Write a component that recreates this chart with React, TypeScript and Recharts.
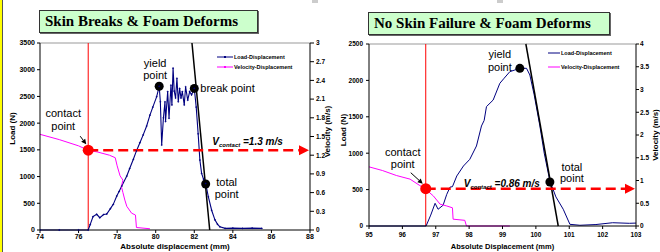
import { ComposedChart, Line, XAxis, YAxis, ReferenceLine, ReferenceDot, Legend } from "recharts";

const SANS = "'Liberation Sans', Arial, sans-serif";
const SERIF = "'Liberation Serif', 'Times New Roman', serif";
const NAVY = "#000080";
const MAGENTA = "#FF00FF";
const RED = "#FF0000";

// ---- left panel: skin breaks ----
const leftXTicks = [74, 76, 78, 80, 82, 84, 86, 88];
const leftLoadTicks = [0, 500, 1000, 1500, 2000, 2500, 3000, 3500];
const leftVelTicks = [0, 0.3, 0.6, 0.9, 1.2, 1.5, 1.8, 2.1, 2.4, 2.7, 3];

const leftLoad = [
  { x: 74, y: 0 }, { x: 75, y: 0 }, { x: 76, y: 0 }, { x: 76.5, y: 0 }, { x: 76.6, y: 100 },
  { x: 76.75, y: 250 }, { x: 76.94, y: 294 }, { x: 77.1, y: 230 }, { x: 77.3, y: 290 },
  { x: 77.46, y: 300 }, { x: 77.65, y: 400 }, { x: 77.8, y: 480 }, { x: 77.98, y: 636 },
  { x: 78.1, y: 720 }, { x: 78.24, y: 823 }, { x: 78.5, y: 1010 }, { x: 78.65, y: 1150 },
  { x: 78.84, y: 1323 }, { x: 79.0, y: 1480 }, { x: 79.18, y: 1634 }, { x: 79.35, y: 1780 },
  { x: 79.53, y: 1946 }, { x: 79.7, y: 2150 }, { x: 79.85, y: 2300 }, { x: 80.05, y: 2495 },
  { x: 80.18, y: 2690 }, { x: 80.24, y: 2400 }, { x: 80.31, y: 1590 }, { x: 80.4, y: 2100 },
  { x: 80.48, y: 2400 }, { x: 80.51, y: 2030 }, { x: 80.62, y: 2590 }, { x: 80.69, y: 2090 },
  { x: 80.79, y: 2710 }, { x: 80.84, y: 2340 }, { x: 80.9, y: 3030 }, { x: 80.96, y: 2600 },
  { x: 81.03, y: 2470 }, { x: 81.1, y: 2840 }, { x: 81.17, y: 2400 }, { x: 81.24, y: 2650 },
  { x: 81.31, y: 2470 }, { x: 81.38, y: 2590 }, { x: 81.48, y: 2340 }, { x: 81.55, y: 2680 },
  { x: 81.66, y: 2430 }, { x: 81.76, y: 2590 }, { x: 81.86, y: 2530 }, { x: 82.0, y: 2650 },
  { x: 82.1, y: 2300 }, { x: 82.2, y: 1800 }, { x: 82.29, y: 1310 }, { x: 82.38, y: 1060 },
  { x: 82.48, y: 950 }, { x: 82.59, y: 870 }, { x: 82.73, y: 620 }, { x: 82.9, y: 370 },
  { x: 83.07, y: 190 }, { x: 83.2, y: 110 }, { x: 83.33, y: 60 }, { x: 83.6, y: 30 },
  { x: 84, y: 35 }, { x: 84.5, y: 30 }, { x: 85, y: 35 }, { x: 85.5, y: 30 },
];

const leftVelocity = [
  { x: 74, v: 1.535 }, { x: 75, v: 1.45 }, { x: 76, v: 1.35 }, { x: 76.5, v: 1.28 },
  { x: 77, v: 1.25 }, { x: 77.6, v: 1.2 }, { x: 77.9, v: 1.16 }, { x: 78.0, v: 1.03 },
  { x: 78.15, v: 0.87 }, { x: 78.3, v: 0.8 }, { x: 78.22, v: 0.7 }, { x: 78.3, v: 0.6 },
  { x: 78.4, v: 0.48 }, { x: 78.5, v: 0.38 }, { x: 78.75, v: 0.27 }, { x: 78.95, v: 0.24 },
  { x: 79.0, v: 0.04 }, { x: 79.7, v: 0.02 },
];

const leftTangent = [{ x: 81.88, y: 3500 }, { x: 82.8, y: 0 }];
const leftContact = { x: 76.5, v: 1.28 };
const leftYield = { x: 80.18, y: 2690 };
const leftBreak = { x: 82.0, y: 2650 };
const leftTotal = { x: 82.59, y: 860 };

// ---- right panel: no skin failure ----
const rightXTicks = [95, 96, 97, 98, 99, 100, 101, 102, 103];
const rightLoadTicks = [0, 500, 1000, 1500, 2000, 2500];
const rightVelTicks = [0, 0.5, 1, 1.5, 2, 2.5, 3, 3.5, 4];

const rightLoad = [
  { x: 95, y: 0 }, { x: 96, y: 0 }, { x: 96.71, y: 0 }, { x: 96.85, y: 150 }, { x: 96.98, y: 312 },
  { x: 97.07, y: 230 }, { x: 97.22, y: 285 }, { x: 97.33, y: 435 }, { x: 97.43, y: 535 },
  { x: 97.5, y: 540 }, { x: 97.63, y: 687 }, { x: 97.83, y: 824 }, { x: 98.02, y: 916 },
  { x: 98.22, y: 1099 }, { x: 98.37, y: 1374 }, { x: 98.45, y: 1450 }, { x: 98.52, y: 1640 },
  { x: 98.72, y: 1730 }, { x: 98.92, y: 1960 }, { x: 99.05, y: 2030 }, { x: 99.22, y: 2120 },
  { x: 99.35, y: 2140 }, { x: 99.52, y: 2166 }, { x: 99.72, y: 2166 }, { x: 99.82, y: 2074 },
  { x: 99.95, y: 1800 }, { x: 100.12, y: 1374 }, { x: 100.25, y: 1000 }, { x: 100.42, y: 618 },
  { x: 100.6, y: 400 }, { x: 100.82, y: 230 }, { x: 101.02, y: 23 }, { x: 101.32, y: 10 },
  { x: 101.8, y: 20 }, { x: 102.3, y: 45 }, { x: 102.8, y: 37 }, { x: 103, y: 40 },
];

const rightVelocity = [
  { x: 95, v: 1.3 }, { x: 95.4, v: 1.22 }, { x: 95.82, v: 1.11 }, { x: 96.23, v: 1.03 },
  { x: 96.5, v: 0.9 }, { x: 96.68, v: 0.82 }, { x: 96.93, v: 0.66 }, { x: 97.13, v: 0.48 },
  { x: 97.33, v: 0.44 }, { x: 97.5, v: 0.4 }, { x: 97.52, v: 0.15 }, { x: 97.87, v: 0.125 },
  { x: 97.92, v: 0 }, { x: 99.22, v: 0 },
];

const rightTangent = [{ x: 99.7, y: 2500 }, { x: 100.67, y: 0 }];
const rightContact = { x: 96.7, v: 0.82 };
const rightYield = { x: 99.52, y: 2166 };
const rightTotal = { x: 100.42, y: 605 };

type Note = { text: string; dx: number; dy: number; anchor?: "start" | "middle" | "end" };

const noteText = (n: Note, cx: number, cy: number, i: number) => (
  <text key={i} x={cx + n.dx} y={cy + n.dy} textAnchor={n.anchor ?? "middle"} fontFamily={SANS} fontSize={11} fill="#000">
    {n.text}
  </text>
);

const blackDot = (notes: Note[]) => (p: any) => (
  <g>
    <circle cx={p.cx} cy={p.cy} r={4.5} fill="#000" />
    {notes.map((n, i) => noteText(n, p.cx, p.cy, i))}
  </g>
);

// red contact dot with its label, leader arrow and the velocity text
const contactDot = (notes: Note[], leader: number[], vValue: string, vdx: number, vdy: number) => (p: any) => {
  const [x1, y1, x2, y2] = [p.cx + leader[0], p.cy + leader[1], p.cx + leader[2], p.cy + leader[3]];
  const len = Math.hypot(x2 - x1, y2 - y1);
  const ux = (x2 - x1) / len;
  const uy = (y2 - y1) / len;
  const bx = x2 - ux * 5;
  const by = y2 - uy * 5;
  return (
    <g>
      <line x1={x1} y1={y1} x2={bx} y2={by} stroke="#000" strokeWidth={1} />
      <polygon points={`${x2},${y2} ${bx - uy * 2.5},${by + ux * 2.5} ${bx + uy * 2.5},${by - ux * 2.5}`} fill="#000" />
      <circle cx={p.cx} cy={p.cy} r={5.5} fill={RED} />
      {notes.map((n, i) => noteText(n, p.cx, p.cy, i))}
      <text x={p.cx + vdx} y={p.cy + vdy} fontFamily={SANS} fontSize={10} fontWeight="bold" fontStyle="italic" fill="#000">
        V<tspan fontSize={6} dy={2}>contact</tspan>
        <tspan dy={-2}> ={vValue} m/s</tspan>
      </text>
    </g>
  );
};

const arrowHead = (p: any) => (
  <polygon points={`${p.cx - 1},${p.cy} ${p.cx - 11},${p.cy - 5} ${p.cx - 11},${p.cy + 5}`} fill={RED} />
);

const vLabel = (text: string, dx: number, dy: number, size: number) => ({ viewBox }: any) => {
  const x = viewBox.x + dx;
  const y = viewBox.y + viewBox.height / 2 + dy;
  return (
    <text x={x} y={y} transform={`rotate(-90 ${x} ${y})`} textAnchor="middle" dominantBaseline="central"
      fontFamily={SANS} fontSize={size} fontWeight="bold" fill="#000">
      {text}
    </text>
  );
};

const hLabel = (text: string, dy: number, size: number) => ({ viewBox }: any) => (
  <text x={viewBox.x + viewBox.width / 2} y={viewBox.y + dy} textAnchor="middle"
    fontFamily={SANS} fontSize={size} fontWeight="bold" fill="#000">
    {text}
  </text>
);

function LegendBox({ rowH, lineW, marker }: { rowH: number; lineW: number; marker: boolean }) {
  const rows = [
    { name: "Load-Displacement", color: NAVY },
    { name: "Velocity-Displacement", color: MAGENTA },
  ];
  return (
    <div style={{ fontFamily: SANS, fontSize: 5.5, fontWeight: "bold", whiteSpace: "nowrap" }}>
      {rows.map((r) => (
        <div key={r.name} style={{ height: rowH, display: "flex", alignItems: "center" }}>
          <svg width={lineW + 1} height={6}>
            <line x1={0} y1={3} x2={lineW} y2={3} stroke={r.color} strokeWidth={1} />
            {marker && <rect x={lineW / 2 - 1} y={2} width={2} height={2} fill={r.color} />}
          </svg>
          <span>{r.name}</span>
        </div>
      ))}
    </div>
  );
}

const tickStyle = (size: number) => ({ fontFamily: SANS, fontSize: size, fontWeight: "bold", fill: "#000" });

function TitleBox({ left, top, width, text }: { left: number; top: number; width: number; text: string }) {
  return (
    <div style={{
      position: "absolute", left, top, width, height: 23, boxSizing: "border-box",
      background: "#CCFFCC", border: "1px solid #333", boxShadow: "1px 1px 0 #666",
      fontFamily: SERIF, fontWeight: "bold", fontSize: 15, lineHeight: "21px", paddingLeft: 5, color: "#000",
    }}>
      {text}
    </div>
  );
}

export default function App() {
  return (
    <div style={{ position: "absolute", left: 0, top: 0, width: 660, height: 252, background: "#fff", overflow: "hidden" }}>
      <div style={{ position: "absolute", left: 0, top: 0, width: 2, height: 252, background: "#FFFF00", borderRight: "1px solid #555" }} />
      <div style={{ position: "absolute", left: 312, top: 0, width: 6, height: 3, background: "#ccc" }} />
      <div style={{ position: "absolute", left: 497, top: 0, width: 6, height: 3, background: "#ccc" }} />

      <div style={{ position: "absolute", left: 0, top: 0 }}>
        <ComposedChart width={335} height={252} margin={{ top: 43, right: 0, bottom: 0, left: 10 }}>
          <XAxis dataKey="x" type="number" domain={[74, 88]} ticks={leftXTicks} allowDataOverflow
            height={22} tick={tickStyle(7)} tickSize={3} tickMargin={1} stroke="#000"
            label={{ content: hLabel("Absolute displacement (mm)", 18.5, 8) }} />
          <YAxis yAxisId="left" domain={[0, 3500]} ticks={leftLoadTicks} width={30}
            tick={tickStyle(7)} tickSize={3} tickMargin={2} stroke="#000"
            label={{ content: vLabel("Load (N)", 2, -8, 8) }} />
          <YAxis yAxisId="right" orientation="right" domain={[0, 3]} ticks={leftVelTicks} width={25}
            tick={tickStyle(6.5)} tickSize={4} tickMargin={2} stroke="#000"
            label={{ content: vLabel("Velocity (m/s)", 17, -5, 8) }} />
          <ReferenceLine yAxisId="left" y={3500} stroke="#999" />
          <ReferenceLine yAxisId="left" x={leftContact.x} stroke={RED} strokeWidth={1} />
          <Line yAxisId="left" data={leftLoad} dataKey="y" stroke={NAVY} strokeWidth={1.1}
            dot={{ r: 0.6, fill: NAVY, stroke: NAVY, strokeWidth: 0.5 }} isAnimationActive={false} />
          <Line yAxisId="right" data={leftVelocity} dataKey="v" stroke={MAGENTA} strokeWidth={1}
            dot={false} isAnimationActive={false} />
          <Line yAxisId="left" data={leftTangent} dataKey="y" stroke="#000" strokeWidth={1.5}
            dot={false} isAnimationActive={false} />
          <ReferenceLine yAxisId="right" segment={[{ x: leftContact.x, y: leftContact.v }, { x: 87.5, y: leftContact.v }]}
            stroke={RED} strokeWidth={2.5} strokeDasharray="10 5" />
          <ReferenceDot yAxisId="right" x={88} y={leftContact.v} shape={arrowHead} />
          <ReferenceDot yAxisId="right" x={leftContact.x} y={leftContact.v}
            shape={contactDot(
              [{ text: "contact", dx: -25, dy: -33 }, { text: "point", dx: -25, dy: -20 }],
              [-8, -14, -2, -6], "1.3", 124, -5)} />
          <ReferenceDot yAxisId="left" x={leftYield.x} y={leftYield.y}
            shape={blackDot([{ text: "yield", dx: -4, dy: -19 }, { text: "point", dx: -4, dy: -7 }])} />
          <ReferenceDot yAxisId="left" x={leftBreak.x} y={leftBreak.y}
            shape={blackDot([{ text: "break point", dx: 6, dy: 4, anchor: "start" }])} />
          <ReferenceDot yAxisId="left" x={leftTotal.x} y={leftTotal.y}
            shape={blackDot([{ text: "total", dx: 21, dy: 2 }, { text: "point", dx: 21, dy: 14 }])} />
          <Legend layout="vertical" verticalAlign="middle" align="center"
            wrapperStyle={{ left: 217, top: 52, width: 110 }}
            content={() => <LegendBox rowH={10} lineW={16} marker={true} />} />
        </ComposedChart>
      </div>

      <div style={{ position: "absolute", left: 330, top: 0 }}>
        <ComposedChart width={330} height={252} margin={{ top: 44, right: 0, bottom: 4, left: 9 }}>
          <XAxis dataKey="x" type="number" domain={[95, 103]} ticks={rightXTicks} allowDataOverflow
            height={22} tick={tickStyle(6.5)} tickSize={3} tickMargin={3} stroke="#000"
            label={{ content: hLabel("Absolute Displacement (mm)", 23, 7.5) }} />
          <YAxis yAxisId="left" domain={[0, 2500]} ticks={rightLoadTicks} width={30}
            tick={tickStyle(6.5)} tickSize={3} tickMargin={3} stroke="#000"
            label={{ content: vLabel("Load (N)", 4, -5, 8) }} />
          <YAxis yAxisId="right" orientation="right" domain={[0, 4]} ticks={rightVelTicks} width={24}
            tick={tickStyle(6.5)} tickSize={3} tickMargin={1} stroke="#000"
            label={{ content: vLabel("Velocity (m/s)", 19, 0, 8) }} />
          <ReferenceLine yAxisId="left" y={2500} stroke="#999" />
          <ReferenceLine yAxisId="left" x={rightContact.x} stroke={RED} strokeWidth={1} />
          <Line yAxisId="left" data={rightLoad} dataKey="y" stroke={NAVY} strokeWidth={1}
            dot={false} isAnimationActive={false} />
          <Line yAxisId="right" data={rightVelocity} dataKey="v" stroke={MAGENTA} strokeWidth={1}
            dot={false} isAnimationActive={false} />
          <Line yAxisId="left" data={rightTangent} dataKey="y" stroke="#000" strokeWidth={1.5}
            dot={false} isAnimationActive={false} />
          <ReferenceLine yAxisId="right" segment={[{ x: rightContact.x, y: rightContact.v }, { x: 102.7, y: rightContact.v }]}
            stroke={RED} strokeWidth={2.5} strokeDasharray="10 5" />
          <ReferenceDot yAxisId="right" x={103} y={rightContact.v} shape={arrowHead} />
          <ReferenceDot yAxisId="right" x={rightContact.x} y={rightContact.v}
            shape={contactDot(
              [{ text: "contact", dx: -23, dy: -33 }, { text: "point", dx: -23, dy: -21 }],
              [-15, -16, -3, -5], "0.86", 38, -2)} />
          <ReferenceDot yAxisId="left" x={rightYield.x} y={rightYield.y}
            shape={blackDot([{ text: "yield", dx: -20, dy: -10 }, { text: "point", dx: -20, dy: 3 }])} />
          <ReferenceDot yAxisId="left" x={rightTotal.x} y={rightTotal.y}
            shape={blackDot([{ text: "total", dx: 22, dy: -11 }, { text: "point", dx: 22, dy: 0 }])} />
          <Legend layout="vertical" verticalAlign="middle" align="center"
            wrapperStyle={{ left: 218, top: 46, width: 110 }}
            content={() => <LegendBox rowH={14} lineW={12} marker={false} />} />
        </ComposedChart>
      </div>

      <TitleBox left={39} top={10} width={219} text="Skin Breaks & Foam Deforms" />
      <TitleBox left={368} top={12} width={242} text="No Skin Failure & Foam Deforms" />
    </div>
  );
}
